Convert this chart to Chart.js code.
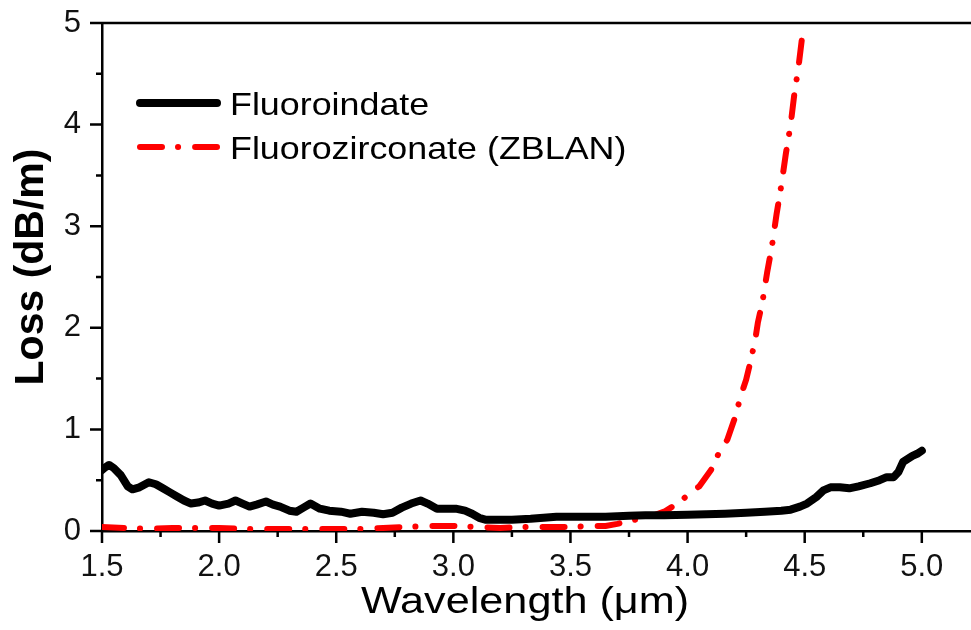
<!DOCTYPE html>
<html>
<head>
<meta charset="utf-8">
<script src="https://cdn.jsdelivr.net/npm/chart.js@4.4.1/dist/chart.umd.min.js"></script>
<style>
  html, body { margin: 0; padding: 0; background: #fff; }
</style>
</head>
<body>
<canvas id="graficoPerdidas" width="971" height="630"></canvas>
<script>
// Datos
const seriesNames = ['Fluoroindate', 'Fluorozirconate (ZBLAN)'];
const xAxisTitle = 'Wavelength (μm)';
const yAxisTitle = 'Loss (dB/m)';

const xIndate = [1.5, 1.51, 1.53, 1.55, 1.58, 1.61, 1.63, 1.66, 1.70, 1.73, 1.76, 1.79, 1.82, 1.85, 1.88, 1.91, 1.94, 1.97,
  2.0, 2.04, 2.07, 2.10, 2.13, 2.16, 2.20, 2.23, 2.26, 2.30, 2.33, 2.36, 2.39, 2.43, 2.47, 2.52, 2.56, 2.61, 2.66, 2.70,
  2.74, 2.78, 2.82, 2.86, 2.89, 2.93, 2.97, 3.01, 3.05, 3.08, 3.11, 3.14, 3.18, 3.25, 3.33, 3.44, 3.55, 3.65, 3.75, 3.82,
  3.9, 4.0, 4.08, 4.16, 4.25, 4.33, 4.40, 4.44, 4.48, 4.51, 4.55, 4.58, 4.61, 4.65, 4.69, 4.73, 4.78, 4.82, 4.85, 4.88,
  4.90, 4.92, 4.94, 4.96, 4.98, 5.0];
const yIndate = [0.60, 0.62, 0.65, 0.62, 0.55, 0.44, 0.41, 0.43, 0.48, 0.46, 0.42, 0.38, 0.34, 0.30, 0.27, 0.28, 0.30, 0.27,
  0.25, 0.27, 0.30, 0.27, 0.24, 0.26, 0.29, 0.26, 0.24, 0.20, 0.19, 0.23, 0.27, 0.22, 0.20, 0.19, 0.17, 0.19, 0.18, 0.165,
  0.18, 0.23, 0.27, 0.30, 0.27, 0.22, 0.22, 0.22, 0.20, 0.17, 0.13, 0.11, 0.11, 0.11, 0.12, 0.14, 0.14, 0.14, 0.15, 0.155,
  0.155, 0.16, 0.165, 0.17, 0.18, 0.19, 0.20, 0.21, 0.24, 0.27, 0.335, 0.40, 0.43, 0.43, 0.42, 0.44, 0.47, 0.50, 0.53, 0.53,
  0.58, 0.68, 0.71, 0.74, 0.76, 0.79];

const xZblan = [1.5, 1.6, 1.7, 1.8, 1.9, 2.0, 2.1, 2.2, 2.3, 2.4, 2.5, 2.6, 2.7, 2.8, 2.9, 3.0, 3.1, 3.2, 3.3, 3.4, 3.5, 3.6,
  3.65, 3.7, 3.75, 3.8, 3.85, 3.9, 3.95, 4.0, 4.05, 4.1,
  4.13, 4.17, 4.2, 4.23, 4.25, 4.27, 4.29, 4.3, 4.32, 4.34, 4.36, 4.38, 4.4, 4.42, 4.44, 4.46, 4.47, 4.49];
const yZblan = [0.04, 0.03, 0.02, 0.03, 0.03, 0.03, 0.02, 0.02, 0.02, 0.02, 0.02, 0.02, 0.03, 0.04, 0.05, 0.05, 0.04, 0.03, 0.04, 0.04, 0.04, 0.05,
  0.05, 0.07, 0.10, 0.12, 0.15, 0.19, 0.26, 0.35, 0.44, 0.60,
  0.75, 0.90, 1.10, 1.35, 1.49, 1.68, 1.90, 2.05, 2.26, 2.55, 2.80, 3.12, 3.40, 3.72, 4.00, 4.38, 4.50, 4.88];

// Ticks
const xMajorTicks = [1.5, 2.0, 2.5, 3.0, 3.5, 4.0, 4.5, 5.0];
const xMinorTicks = [1.75, 2.25, 2.75, 3.25, 3.75, 4.25, 4.75];
const xTickLabels = ['1.5', '2.0', '2.5', '3.0', '3.5', '4.0', '4.5', '5.0'];
const yMajorTicks = [0, 1, 2, 3, 4, 5];
const yMinorTicks = [0.5, 1.5, 2.5, 3.5, 4.5];
const yTickLabels = ['0', '1', '2', '3', '4', '5'];

const fuente = 'Liberation Sans, Arial, sans-serif';

// Marcas de ejes (mayores y menores), línea superior, títulos y leyenda
const ejesPlugin = {
  id: 'ejes',
  afterDraw(chart) {
    const ctx = chart.ctx;
    const { left, right, top, bottom } = chart.chartArea;
    const sx = chart.scales.x;
    const sy = chart.scales.y;
    ctx.save();
    ctx.strokeStyle = '#000';
    ctx.lineWidth = 2.5;
    ctx.beginPath();
    ctx.moveTo(left, top);
    ctx.lineTo(right, top);
    xMajorTicks.forEach(v => { const p = sx.getPixelForValue(v); ctx.moveTo(p, bottom); ctx.lineTo(p, bottom + 12); });
    xMinorTicks.forEach(v => { const p = sx.getPixelForValue(v); ctx.moveTo(p, bottom); ctx.lineTo(p, bottom + 6); });
    yMajorTicks.forEach(v => { const p = sy.getPixelForValue(v); ctx.moveTo(left, p); ctx.lineTo(left - 12, p); });
    yMinorTicks.forEach(v => { const p = sy.getPixelForValue(v); ctx.moveTo(left, p); ctx.lineTo(left - 6, p); });
    ctx.stroke();

    // Títulos de los ejes
    ctx.fillStyle = '#000';
    ctx.textAlign = 'center';
    ctx.textBaseline = 'alphabetic';
    ctx.save();
    ctx.translate(525, 613);
    ctx.scale(1.2, 1);
    ctx.font = `36px ${fuente}`;
    ctx.fillText(xAxisTitle, 0, 0);
    ctx.restore();
    ctx.save();
    ctx.translate(43, 267);
    ctx.rotate(-Math.PI / 2);
    ctx.font = `bold 41px ${fuente}`;
    ctx.fillText(yAxisTitle, 0, 0);
    ctx.restore();

    // Leyenda
    ctx.textAlign = 'left';
    chart.data.datasets.forEach((ds, i) => {
      const y = 103 + i * 44;
      ctx.setLineDash(ds.borderDash || []);
      ctx.lineCap = 'round';
      ctx.lineWidth = ds.borderWidth;
      ctx.strokeStyle = ds.borderColor;
      ctx.beginPath();
      ctx.moveTo(140, y);
      ctx.lineTo(217, y);
      ctx.stroke();
      ctx.setLineDash([]);
      ctx.save();
      ctx.translate(230, y + 12);
      ctx.scale(1.12, 1);
      ctx.font = `32px ${fuente}`;
      ctx.fillText(ds.label, 0, 0);
      ctx.restore();
    });
    ctx.restore();
  }
};

const canvasGrafico = document.getElementById('graficoPerdidas');

new Chart(canvasGrafico, {
  type: 'line',
  data: {
    datasets: [
      {
        label: seriesNames[0],
        data: xIndate.map((x, i) => ({ x, y: yIndate[i] })),
        borderColor: '#000000',
        borderWidth: 8,
        borderJoinStyle: 'round',
        borderCapStyle: 'round',
        pointRadius: 0,
        tension: 0
      },
      {
        label: seriesNames[1],
        data: xZblan.map((x, i) => ({ x, y: yZblan[i] })),
        borderColor: '#ff0000',
        borderWidth: 6,
        borderDash: [22, 16, 0.1, 17],
        borderCapStyle: 'round',
        pointRadius: 0,
        tension: 0
      }
    ]
  },
  options: {
    responsive: false,
    animation: false,
    devicePixelRatio: 1,
    layout: { padding: { top: 23, right: 0, bottom: 0, left: 0 } },
    plugins: {
      legend: { display: false },
      tooltip: { enabled: false }
    },
    scales: {
      x: {
        type: 'linear',
        min: 1.5,
        max: 5.21,
        afterBuildTicks: s => { s.ticks = xMajorTicks.map(v => ({ value: v })); },
        afterFit: s => { s.height = 99; s.paddingLeft = 0; s.paddingRight = 0; },
        grid: { display: false, drawTicks: false },
        border: { display: true, color: '#000', width: 2.5 },
        ticks: {
          callback: (v, i) => xTickLabels[i],
          autoSkip: false,
          maxRotation: 0,
          padding: 18,
          color: '#111',
          font: { family: fuente, size: 31 }
        },
        title: { display: false }
      },
      y: {
        min: 0,
        max: 5,
        afterBuildTicks: s => { s.ticks = yMajorTicks.map(v => ({ value: v })); },
        afterFit: s => { s.width = 102; s.paddingTop = 0; s.paddingBottom = 0; },
        grid: { display: false, drawTicks: false },
        border: { display: true, color: '#000', width: 2.5 },
        ticks: {
          callback: (v, i) => yTickLabels[i],
          padding: 21,
          color: '#111',
          font: { family: fuente, size: 31 }
        },
        title: { display: false }
      }
    }
  },
  plugins: [ejesPlugin]
});
</script>
</body>
</html>
